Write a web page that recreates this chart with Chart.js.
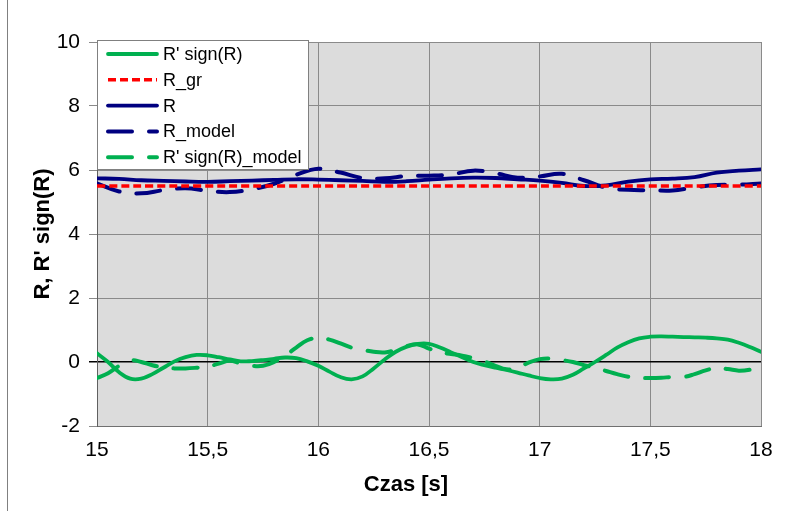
<!DOCTYPE html>
<html>
<head>
<meta charset="utf-8">
<script src="https://cdn.jsdelivr.net/npm/chart.js@4.4.1/dist/chart.umd.min.js"></script>
<style>
    body { margin: 0; background: #ffffff; }
    #wykres { display: block; }
</style>
</head>
<body>
<canvas id="wykres" width="790" height="511"></canvas>
<script>
// dane
const czasR = [15.0, 15.1, 15.2, 15.3, 15.4, 15.5, 15.6, 15.7, 15.8, 15.9,
               16.0, 16.1, 16.2, 16.3, 16.4, 16.5, 16.6, 16.7, 16.8, 16.9,
               17.0, 17.1, 17.2, 17.3, 17.4, 17.5, 17.6, 17.7, 17.8, 17.9, 18.0];
const R = [5.74, 5.72, 5.68, 5.66, 5.64, 5.63, 5.65, 5.67, 5.69, 5.71,
           5.70, 5.68, 5.66, 5.63, 5.65, 5.70, 5.74, 5.76, 5.75, 5.71,
           5.67, 5.60, 5.50, 5.52, 5.64, 5.71, 5.73, 5.78, 5.92, 5.98, 6.02];
const R_model = [5.58, 5.33, 5.27, 5.37, 5.43, 5.35, 5.31, 5.40, 5.57, 5.85,
                 6.04, 5.92, 5.75, 5.74, 5.81, 5.82, 5.86, 5.98, 5.90, 5.76,
                 5.80, 5.88, 5.68, 5.45, 5.38, 5.37, 5.36, 5.46, 5.53, 5.54, 5.58];
const czasGr = [15, 18];
const R_gr = [5.5, 5.5];

const czasG = [15.00, 15.05, 15.10, 15.15, 15.20, 15.25, 15.30, 15.35, 15.40, 15.45,
               15.50, 15.55, 15.60, 15.65, 15.70, 15.75, 15.80, 15.85, 15.90, 15.95,
               16.00, 16.05, 16.10, 16.15, 16.20, 16.25, 16.30, 16.35, 16.40, 16.45,
               16.50, 16.55, 16.60, 16.65, 16.70, 16.75, 16.80, 16.85, 16.90, 16.95,
               17.00, 17.05, 17.10, 17.15, 17.20, 17.25, 17.30, 17.35, 17.40, 17.45,
               17.50, 17.55, 17.60, 17.65, 17.70, 17.75, 17.80, 17.85, 17.90, 17.95, 18.00];
const RsignR = [0.27, 0.0, -0.32, -0.52, -0.52, -0.38, -0.18, 0.02, 0.15, 0.22,
                0.21, 0.15, 0.08, 0.02, 0.03, 0.06, 0.10, 0.14, 0.12, 0.02,
                -0.12, -0.30, -0.47, -0.54, -0.45, -0.20, 0.08, 0.32, 0.48, 0.57,
                0.57, 0.45, 0.30, 0.15, 0.00, -0.10, -0.18, -0.25, -0.33, -0.42,
                -0.50, -0.54, -0.52, -0.40, -0.20, 0.00, 0.22, 0.45, 0.62, 0.74,
                0.79, 0.80, 0.79, 0.78, 0.77, 0.76, 0.74, 0.70, 0.60, 0.47, 0.32];
const RsignR_model = [-0.50, -0.35, -0.12, 0.05, 0.00, -0.10, -0.17, -0.20, -0.20, -0.18,
                      -0.15, -0.05, 0.04, -0.05, -0.12, -0.12, 0.00, 0.20, 0.45, 0.68,
                      0.75, 0.70, 0.58, 0.45, 0.38, 0.32, 0.30, 0.38, 0.50, 0.55,
                      0.42, 0.30, 0.25, 0.20, 0.12, 0.02, -0.12, -0.23, -0.18, -0.02,
                      0.09, 0.11, 0.06, 0.00, -0.10, -0.18, -0.28, -0.38, -0.46, -0.50,
                      -0.50, -0.49, -0.47, -0.47, -0.38, -0.26, -0.19, -0.22, -0.27, -0.24, -0.15];

const etykietyX = ['15', '15,5', '16', '16,5', '17', '17,5', '18'];
const ticksY = [-2, 0, 2, 4, 6, 8, 10];

const czcionka = "'Liberation Sans', Arial, sans-serif";
const zielony = '#00B050';
const granat = '#000080';
const czerwony = '#FF0000';

function punkty(xs, ys) {
    return xs.map((x, i) => ({ x: x, y: ys[i] }));
}

const serie = [
    { label: "R' sign(R)", data: punkty(czasG, RsignR), borderColor: zielony, borderWidth: 3.8, borderDash: [] },
    { label: 'R_gr', data: punkty(czasGr, R_gr), borderColor: czerwony, borderWidth: 3.5, borderDash: [8, 4], borderCapStyle: 'butt' },
    { label: 'R', data: punkty(czasR, R), borderColor: granat, borderWidth: 3.8, borderDash: [] },
    { label: 'R_model', data: punkty(czasR, R_model), borderColor: granat, borderWidth: 4, borderDash: [24, 17] },
    { label: "R' sign(R)_model", data: punkty(czasG, RsignR_model), borderColor: zielony, borderWidth: 4, borderDash: [24, 17] }
];

serie.forEach(s => {
    s.fill = false;
    s.pointRadius = 0;
    s.tension = 0.4;
    if (!s.borderCapStyle) s.borderCapStyle = 'round';
    s.borderJoinStyle = 'round';
});

// tło, legenda w polu wykresu i tytuły osi
const dodatki = {
    id: 'dodatki',
    beforeDraw(chart) {
        const ctx = chart.ctx;
        const a = chart.chartArea;
        ctx.save();
        ctx.fillStyle = '#ffffff';
        ctx.fillRect(0, 0, chart.width, chart.height);
        ctx.fillStyle = '#DCDCDC';
        ctx.fillRect(a.left, a.top, a.right - a.left, a.bottom - a.top);
        ctx.restore();
    },
    afterDraw(chart) {
        const ctx = chart.ctx;
        const a = chart.chartArea;
        ctx.save();

        // legenda
        ctx.fillStyle = '#ffffff';
        ctx.fillRect(97.5, 40.5, 211, 129);
        ctx.strokeStyle = '#808080';
        ctx.lineWidth = 1;
        ctx.strokeRect(97.5, 40.5, 211, 129);
        ctx.font = '18px ' + czcionka;
        ctx.textBaseline = 'middle';
        ctx.textAlign = 'left';
        serie.forEach((s, i) => {
            const y = 54 + i * 25.8;
            ctx.beginPath();
            ctx.strokeStyle = s.borderColor;
            ctx.lineWidth = s.borderWidth;
            ctx.lineCap = s.borderCapStyle;
            ctx.setLineDash(s.borderDash);
            ctx.moveTo(108, y);
            ctx.lineTo(157, y);
            ctx.stroke();
            ctx.setLineDash([]);
            ctx.fillStyle = '#000000';
            ctx.fillText(s.label, 163, y + 1);
        });

        // tytuły osi
        ctx.fillStyle = '#000000';
        ctx.font = 'bold 22px ' + czcionka;
        ctx.textAlign = 'center';
        ctx.fillText('Czas [s]', 406, 485);
        ctx.translate(43, (a.top + a.bottom) / 2);
        ctx.rotate(-Math.PI / 2);
        ctx.fillText("R, R' sign(R)", 0, 0);
        ctx.restore();

        // ramka z lewej
        ctx.save();
        ctx.strokeStyle = '#808080';
        ctx.lineWidth = 1;
        ctx.beginPath();
        ctx.moveTo(7.5, 0);
        ctx.lineTo(7.5, chart.height);
        ctx.stroke();
        ctx.restore();
    }
};

const wykres = new Chart(document.getElementById('wykres'), {
    type: 'line',
    data: { datasets: serie },
    options: {
        responsive: false,
        animation: false,
        devicePixelRatio: 1,
        layout: { padding: { top: 42, right: 29, bottom: 0, left: 0 } },
        plugins: {
            legend: { display: false },
            tooltip: { enabled: false }
        },
        scales: {
            x: {
                type: 'linear',
                min: 15,
                max: 18,
                afterBuildTicks: (scale) => {
                    scale.ticks = etykietyX.map((t, i) => ({ value: 15 + i * 0.5 }));
                },
                afterFit: (scale) => { scale.height = 85; },
                ticks: {
                    color: '#000000',
                    font: { family: czcionka, size: 21 },
                    padding: 12,
                    maxRotation: 0,
                    autoSkip: false,
                    callback: (v, i) => etykietyX[i]
                },
                grid: { color: '#8A8A8A', lineWidth: 1, drawTicks: false },
                border: { color: '#707070', width: 1 }
            },
            y: {
                min: -2,
                max: 10,
                afterBuildTicks: (scale) => {
                    scale.ticks = ticksY.map(v => ({ value: v }));
                },
                afterFit: (scale) => { scale.width = 97; },
                ticks: {
                    color: '#000000',
                    font: { family: czcionka, size: 21 },
                    padding: 9,
                    callback: (v) => String(v)
                },
                grid: {
                    color: (c) => (c.tick && c.tick.value === 0 ? '#000000' : '#8A8A8A'),
                    lineWidth: (c) => (c.tick && c.tick.value === 0 ? 1.5 : 1),
                    tickLength: 8,
                    drawTicks: true
                },
                border: { color: '#606060', width: 1 }
            }
        }
    },
    plugins: [dodatki]
});
</script>
</body>
</html>
